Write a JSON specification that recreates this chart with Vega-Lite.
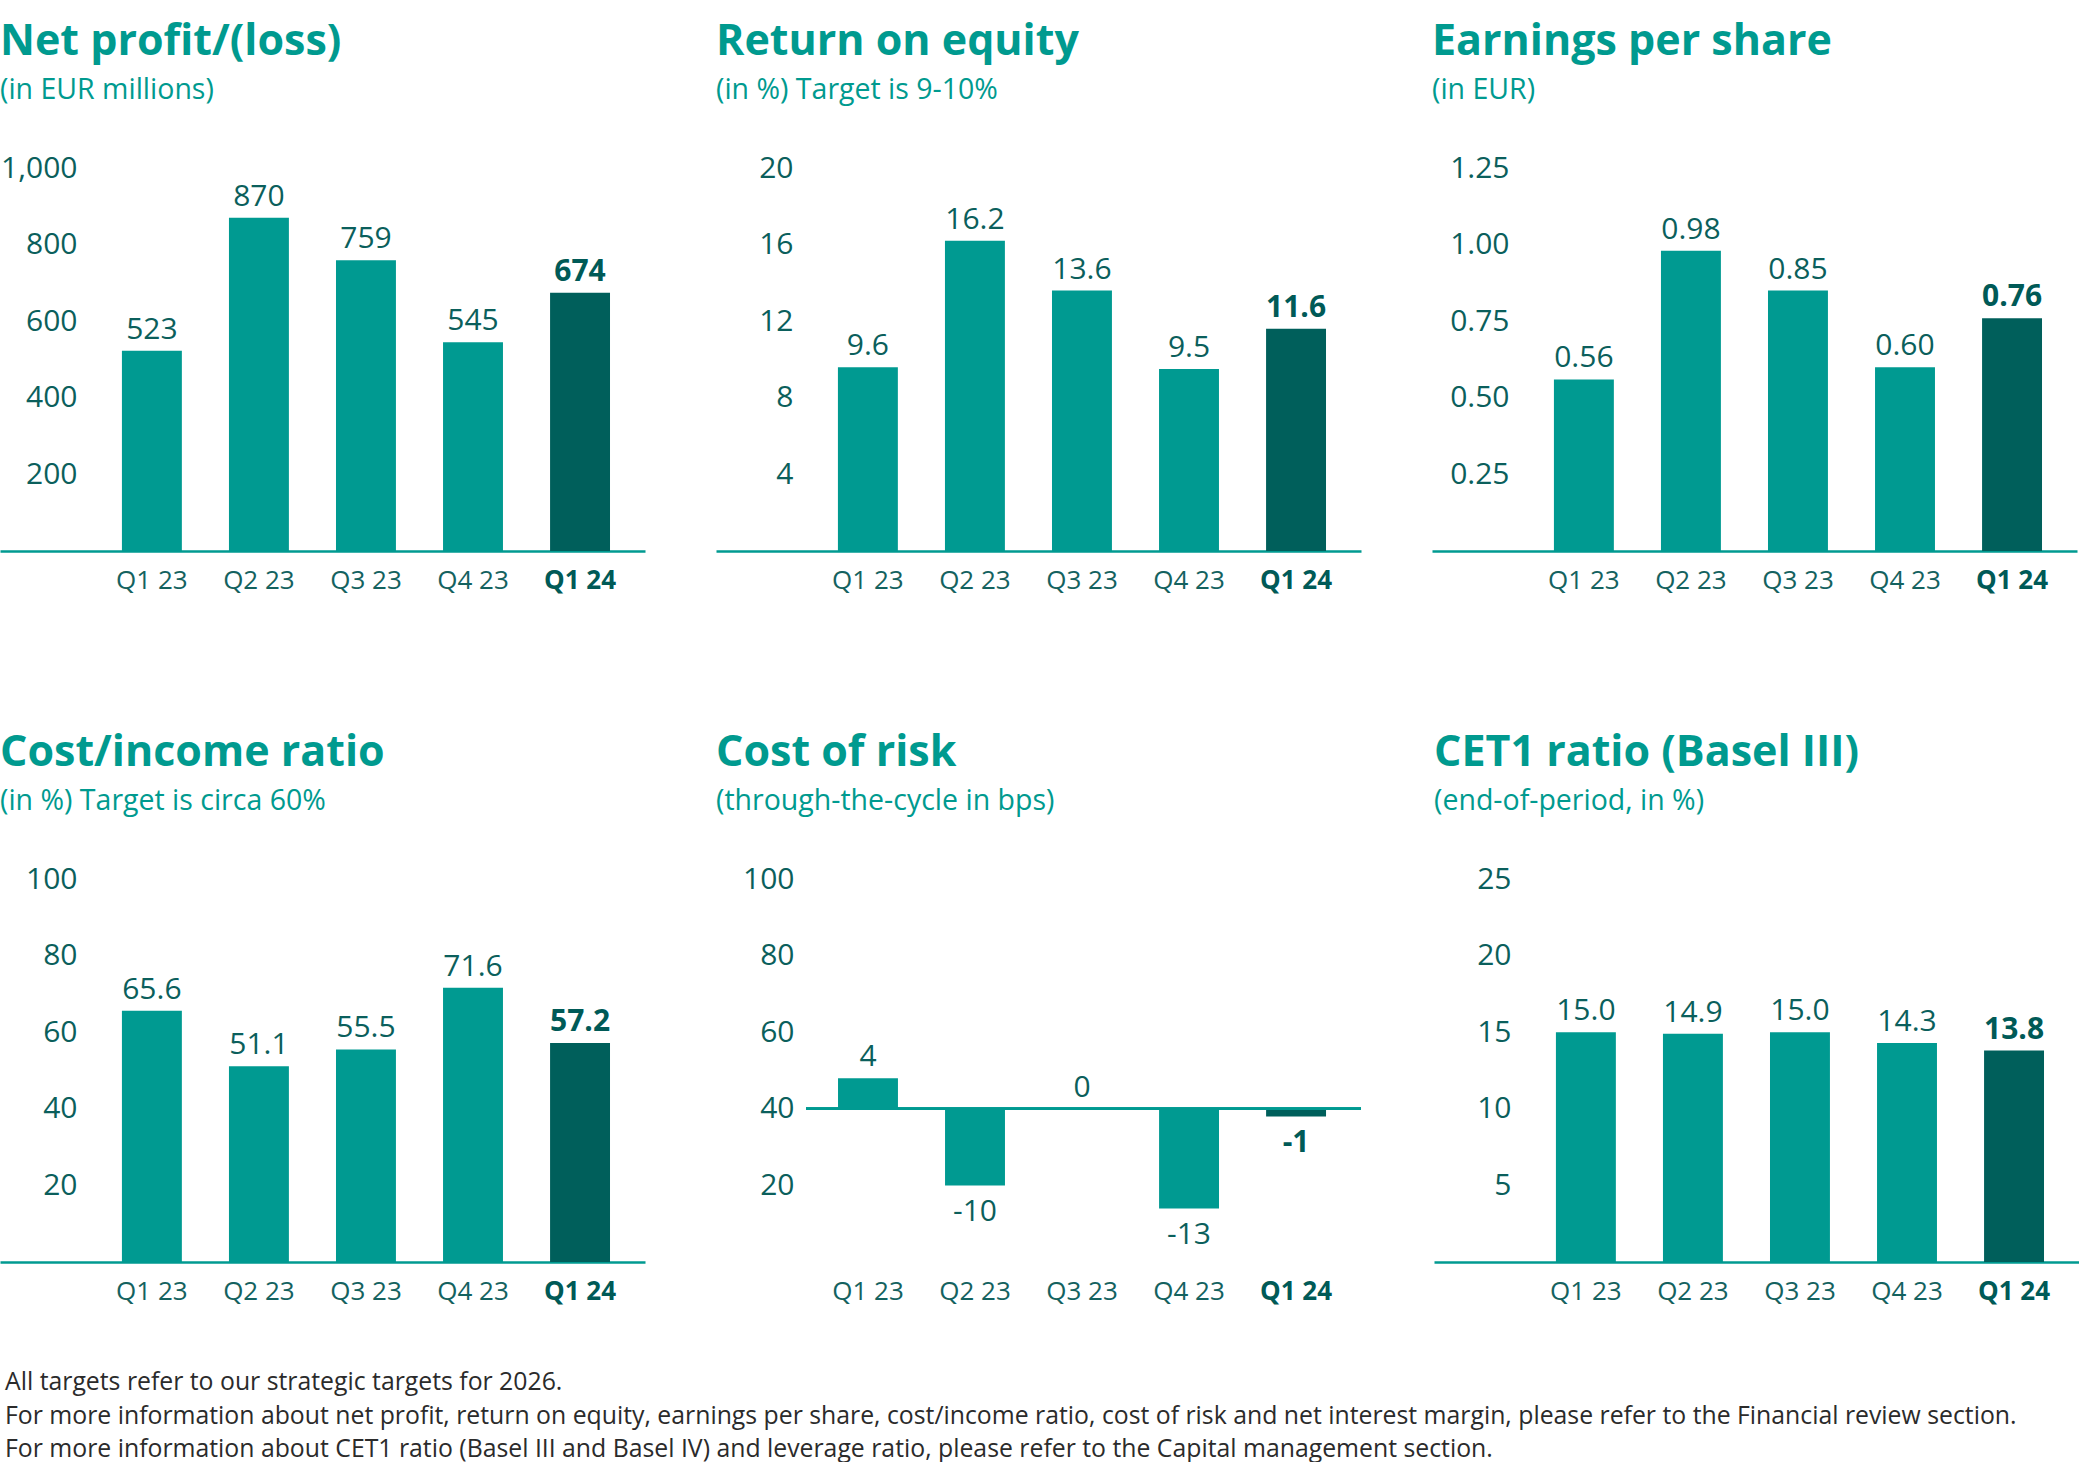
{
  "$schema": "https://vega.github.io/schema/vega-lite/v6.json",
  "padding": {"left": 0, "top": 20, "right": 0, "bottom": 0},
  "background": "white",
  "title": {
    "text": [
      "All targets refer to our strategic targets for 2026.",
      "For more information about net profit, return on equity, earnings per share, cost/income ratio, cost of risk and net interest margin, please refer to the Financial review section.",
      "For more information about CET1 ratio (Basel III and Basel IV) and leverage ratio, please refer to the Capital management section."
    ],
    "orient": "bottom",
    "anchor": "start",
    "frame": "bounds",
    "font": "Open Sans",
    "fontSize": 24.8,
    "fontWeight": "normal",
    "color": "#2B2B2B",
    "lineHeight": 33.5,
    "offset": 66,
    "dx": 5
  },
  "spacing": 138,
  "vconcat": [
    {
      "spacing": 71,
      "hconcat": [
        {
          "width": 645, "height": 383,
          "title": {"text": "Net profit/(loss)", "subtitle": "(in EUR millions)"},
          "data": {"values": [
            {"q": "Q1 23", "v": 523}, {"q": "Q2 23", "v": 870}, {"q": "Q3 23", "v": 759}, {"q": "Q4 23", "v": 545}, {"q": "Q1 24", "v": 674}
          ]},
          "encoding": {"x": {"field": "q", "type": "nominal", "title": null,
            "scale": {"domain": ["Q1 23", "Q2 23", "Q3 23", "Q4 23", "Q1 24"], "paddingInner": 0.44, "paddingOuter": 0.733, "align": 0.777},
            "axis": {"labelFontWeight": {"condition": {"test": "datum.value === 'Q1 24'", "value": "bold"}, "value": "normal"},
                     "labelColor": {"condition": {"test": "datum.value === 'Q1 24'", "value": "#005A57"}, "value": "#14625F"}}}},
          "layer": [
            {"mark": "bar", "encoding": {
              "y": {"field": "v", "type": "quantitative", "title": null, "scale": {"domain": [0, 1000], "nice": false}, "axis": {"values": [200, 400, 600, 800, 1000], "format": ",d"}},
              "color": {"condition": {"test": "datum.q === 'Q1 24'", "value": "#005F5B"}, "value": "#009A91"}}},
            {"transform": [{"filter": "datum.q !== 'Q1 24'"}], "mark": {"type": "text", "baseline": "alphabetic", "dy": -12},
              "encoding": {"y": {"field": "v", "type": "quantitative"}, "text": {"field": "v", "type": "quantitative", "format": "d"}}},
            {"transform": [{"filter": "datum.q === 'Q1 24'"}], "mark": {"type": "text", "baseline": "alphabetic", "dy": -12, "fontWeight": "bold", "color": "#005A57"},
              "encoding": {"y": {"field": "v", "type": "quantitative"}, "text": {"field": "v", "type": "quantitative", "format": "d"}}}
          ]
        },
        {
          "width": 645, "height": 383,
          "title": {"text": "Return on equity", "subtitle": "(in %) Target is 9-10%"},
          "data": {"values": [
            {"q": "Q1 23", "v": 9.6}, {"q": "Q2 23", "v": 16.2}, {"q": "Q3 23", "v": 13.6}, {"q": "Q4 23", "v": 9.5}, {"q": "Q1 24", "v": 11.6}
          ]},
          "encoding": {"x": {"field": "q", "type": "nominal", "title": null,
            "scale": {"domain": ["Q1 23", "Q2 23", "Q3 23", "Q4 23", "Q1 24"], "paddingInner": 0.44, "paddingOuter": 0.733, "align": 0.777},
            "axis": {"labelFontWeight": {"condition": {"test": "datum.value === 'Q1 24'", "value": "bold"}, "value": "normal"},
                     "labelColor": {"condition": {"test": "datum.value === 'Q1 24'", "value": "#005A57"}, "value": "#14625F"}}}},
          "layer": [
            {"mark": "bar", "encoding": {
              "y": {"field": "v", "type": "quantitative", "title": null, "scale": {"domain": [0, 20], "nice": false}, "axis": {"values": [4, 8, 12, 16, 20], "format": "d"}},
              "color": {"condition": {"test": "datum.q === 'Q1 24'", "value": "#005F5B"}, "value": "#009A91"}}},
            {"transform": [{"filter": "datum.q !== 'Q1 24'"}], "mark": {"type": "text", "baseline": "alphabetic", "dy": -12},
              "encoding": {"y": {"field": "v", "type": "quantitative"}, "text": {"field": "v", "type": "quantitative", "format": ".1f"}}},
            {"transform": [{"filter": "datum.q === 'Q1 24'"}], "mark": {"type": "text", "baseline": "alphabetic", "dy": -12, "fontWeight": "bold", "color": "#005A57"},
              "encoding": {"y": {"field": "v", "type": "quantitative"}, "text": {"field": "v", "type": "quantitative", "format": ".1f"}}}
          ]
        },
        {
          "width": 645, "height": 383,
          "title": {"text": "Earnings per share", "subtitle": "(in EUR)"},
          "data": {"values": [
            {"q": "Q1 23", "v": 0.56}, {"q": "Q2 23", "v": 0.98}, {"q": "Q3 23", "v": 0.85}, {"q": "Q4 23", "v": 0.60}, {"q": "Q1 24", "v": 0.76}
          ]},
          "encoding": {"x": {"field": "q", "type": "nominal", "title": null,
            "scale": {"domain": ["Q1 23", "Q2 23", "Q3 23", "Q4 23", "Q1 24"], "paddingInner": 0.44, "paddingOuter": 0.733, "align": 0.777},
            "axis": {"labelFontWeight": {"condition": {"test": "datum.value === 'Q1 24'", "value": "bold"}, "value": "normal"},
                     "labelColor": {"condition": {"test": "datum.value === 'Q1 24'", "value": "#005A57"}, "value": "#14625F"}}}},
          "layer": [
            {"mark": "bar", "encoding": {
              "y": {"field": "v", "type": "quantitative", "title": null, "scale": {"domain": [0, 1.25], "nice": false}, "axis": {"values": [0.25, 0.5, 0.75, 1.0, 1.25], "format": ".2f"}},
              "color": {"condition": {"test": "datum.q === 'Q1 24'", "value": "#005F5B"}, "value": "#009A91"}}},
            {"transform": [{"filter": "datum.q !== 'Q1 24'"}], "mark": {"type": "text", "baseline": "alphabetic", "dy": -12},
              "encoding": {"y": {"field": "v", "type": "quantitative"}, "text": {"field": "v", "type": "quantitative", "format": ".2f"}}},
            {"transform": [{"filter": "datum.q === 'Q1 24'"}], "mark": {"type": "text", "baseline": "alphabetic", "dy": -12, "fontWeight": "bold", "color": "#005A57"},
              "encoding": {"y": {"field": "v", "type": "quantitative"}, "text": {"field": "v", "type": "quantitative", "format": ".2f"}}}
          ]
        }
      ]
    },
    {
      "spacing": 71,
      "hconcat": [
        {
          "width": 645, "height": 383,
          "title": {"text": "Cost/income ratio", "subtitle": "(in %) Target is circa 60%"},
          "data": {"values": [
            {"q": "Q1 23", "v": 65.6}, {"q": "Q2 23", "v": 51.1}, {"q": "Q3 23", "v": 55.5}, {"q": "Q4 23", "v": 71.6}, {"q": "Q1 24", "v": 57.2}
          ]},
          "encoding": {"x": {"field": "q", "type": "nominal", "title": null,
            "scale": {"domain": ["Q1 23", "Q2 23", "Q3 23", "Q4 23", "Q1 24"], "paddingInner": 0.44, "paddingOuter": 0.733, "align": 0.777},
            "axis": {"labelFontWeight": {"condition": {"test": "datum.value === 'Q1 24'", "value": "bold"}, "value": "normal"},
                     "labelColor": {"condition": {"test": "datum.value === 'Q1 24'", "value": "#005A57"}, "value": "#14625F"}}}},
          "layer": [
            {"mark": "bar", "encoding": {
              "y": {"field": "v", "type": "quantitative", "title": null, "scale": {"domain": [0, 100], "nice": false}, "axis": {"values": [20, 40, 60, 80, 100], "format": "d"}},
              "color": {"condition": {"test": "datum.q === 'Q1 24'", "value": "#005F5B"}, "value": "#009A91"}}},
            {"transform": [{"filter": "datum.q !== 'Q1 24'"}], "mark": {"type": "text", "baseline": "alphabetic", "dy": -12},
              "encoding": {"y": {"field": "v", "type": "quantitative"}, "text": {"field": "v", "type": "quantitative", "format": ".1f"}}},
            {"transform": [{"filter": "datum.q === 'Q1 24'"}], "mark": {"type": "text", "baseline": "alphabetic", "dy": -12, "fontWeight": "bold", "color": "#005A57"},
              "encoding": {"y": {"field": "v", "type": "quantitative"}, "text": {"field": "v", "type": "quantitative", "format": ".1f"}}}
          ]
        },
        {
          "width": 555, "height": 383,
          "title": {"text": "Cost of risk", "subtitle": "(through-the-cycle in bps)"},
          "data": {"values": [
            {"q": "Q1 23", "v": 4}, {"q": "Q2 23", "v": -10}, {"q": "Q3 23", "v": 0}, {"q": "Q4 23", "v": -13}, {"q": "Q1 24", "v": -1}
          ]},
          "layer": [
            {"mark": "bar", "encoding": {
              "x": {"field": "q", "type": "nominal", "title": null,
                "scale": {"domain": ["Q1 23", "Q2 23", "Q3 23", "Q4 23", "Q1 24"], "paddingInner": 0.44, "paddingOuter": 0.313, "align": 0.478},
                "axis": {"domain": false,
                         "labelFontWeight": {"condition": {"test": "datum.value === 'Q1 24'", "value": "bold"}, "value": "normal"},
                         "labelColor": {"condition": {"test": "datum.value === 'Q1 24'", "value": "#005A57"}, "value": "#14625F"}}},
              "y": {"field": "v", "type": "quantitative", "title": null, "scale": {"domain": [-20, 30], "nice": false},
                    "axis": {"values": [-10, 0, 10, 20, 30], "labelExpr": "format(datum.value * 2 + 40, 'd')", "labelPadding": 12, "minExtent": 90, "maxExtent": 90}},
              "color": {"condition": {"test": "datum.q === 'Q1 24'", "value": "#005F5B"}, "value": "#009A91"}}},
            {"mark": {"type": "rule", "color": "#009A91", "strokeWidth": 2.5}, "encoding": {"y": {"datum": 0, "type": "quantitative"}}},
            {"transform": [{"filter": "datum.v >= 0"}], "mark": {"type": "text", "baseline": "alphabetic", "dy": -12},
              "encoding": {"x": {"field": "q", "type": "nominal"}, "y": {"field": "v", "type": "quantitative"}, "text": {"field": "v", "type": "nominal"}}},
            {"transform": [{"filter": "datum.v < 0 && datum.q !== 'Q1 24'"}], "mark": {"type": "text", "baseline": "top", "dy": 12},
              "encoding": {"x": {"field": "q", "type": "nominal"}, "y": {"field": "v", "type": "quantitative"}, "text": {"field": "v", "type": "nominal"}}},
            {"transform": [{"filter": "datum.q === 'Q1 24'"}], "mark": {"type": "text", "baseline": "top", "dy": 12, "fontWeight": "bold", "color": "#005A57"},
              "encoding": {"x": {"field": "q", "type": "nominal"}, "y": {"field": "v", "type": "quantitative"}, "text": {"field": "v", "type": "nominal"}}}
          ]
        },
        {
          "width": 645, "height": 383,
          "title": {"text": "CET1 ratio (Basel III)", "subtitle": "(end-of-period, in %)"},
          "data": {"values": [
            {"q": "Q1 23", "v": 15.0}, {"q": "Q2 23", "v": 14.9}, {"q": "Q3 23", "v": 15.0}, {"q": "Q4 23", "v": 14.3}, {"q": "Q1 24", "v": 13.8}
          ]},
          "encoding": {"x": {"field": "q", "type": "nominal", "title": null,
            "scale": {"domain": ["Q1 23", "Q2 23", "Q3 23", "Q4 23", "Q1 24"], "paddingInner": 0.44, "paddingOuter": 0.733, "align": 0.777},
            "axis": {"labelFontWeight": {"condition": {"test": "datum.value === 'Q1 24'", "value": "bold"}, "value": "normal"},
                     "labelColor": {"condition": {"test": "datum.value === 'Q1 24'", "value": "#005A57"}, "value": "#14625F"}}}},
          "layer": [
            {"mark": "bar", "encoding": {
              "y": {"field": "v", "type": "quantitative", "title": null, "scale": {"domain": [0, 25], "nice": false}, "axis": {"values": [5, 10, 15, 20, 25], "format": "d"}},
              "color": {"condition": {"test": "datum.q === 'Q1 24'", "value": "#005F5B"}, "value": "#009A91"}}},
            {"transform": [{"filter": "datum.q !== 'Q1 24'"}], "mark": {"type": "text", "baseline": "alphabetic", "dy": -12},
              "encoding": {"y": {"field": "v", "type": "quantitative"}, "text": {"field": "v", "type": "quantitative", "format": ".1f"}}},
            {"transform": [{"filter": "datum.q === 'Q1 24'"}], "mark": {"type": "text", "baseline": "alphabetic", "dy": -12, "fontWeight": "bold", "color": "#005A57"},
              "encoding": {"y": {"field": "v", "type": "quantitative"}, "text": {"field": "v", "type": "quantitative", "format": ".1f"}}}
          ]
        }
      ]
    }
  ],
  "config": {
    "font": "Open Sans",
    "view": {"stroke": null},
    "axis": {"grid": false, "ticks": false, "labelFont": "Open Sans"},
    "axisY": {"domain": false, "labelFontSize": 30, "labelColor": "#0B5F5C", "labelPadding": -77, "minExtent": 0, "labelBaseline": "middle"},
    "axisX": {"domainColor": "#009A91", "domainWidth": 2.5, "labelFontSize": 26, "labelPadding": 16, "labelAngle": 0},
    "title": {"anchor": "start", "frame": "bounds", "font": "Open Sans", "fontSize": 43, "fontWeight": "bold", "color": "#009A8F", "subtitleFontSize": 28.5, "subtitleColor": "#009A8F", "subtitleFont": "Open Sans", "subtitlePadding": 12, "offset": 49},
    "text": {"fontSize": 30, "color": "#0B5F5C", "font": "Open Sans"}
  }
}
